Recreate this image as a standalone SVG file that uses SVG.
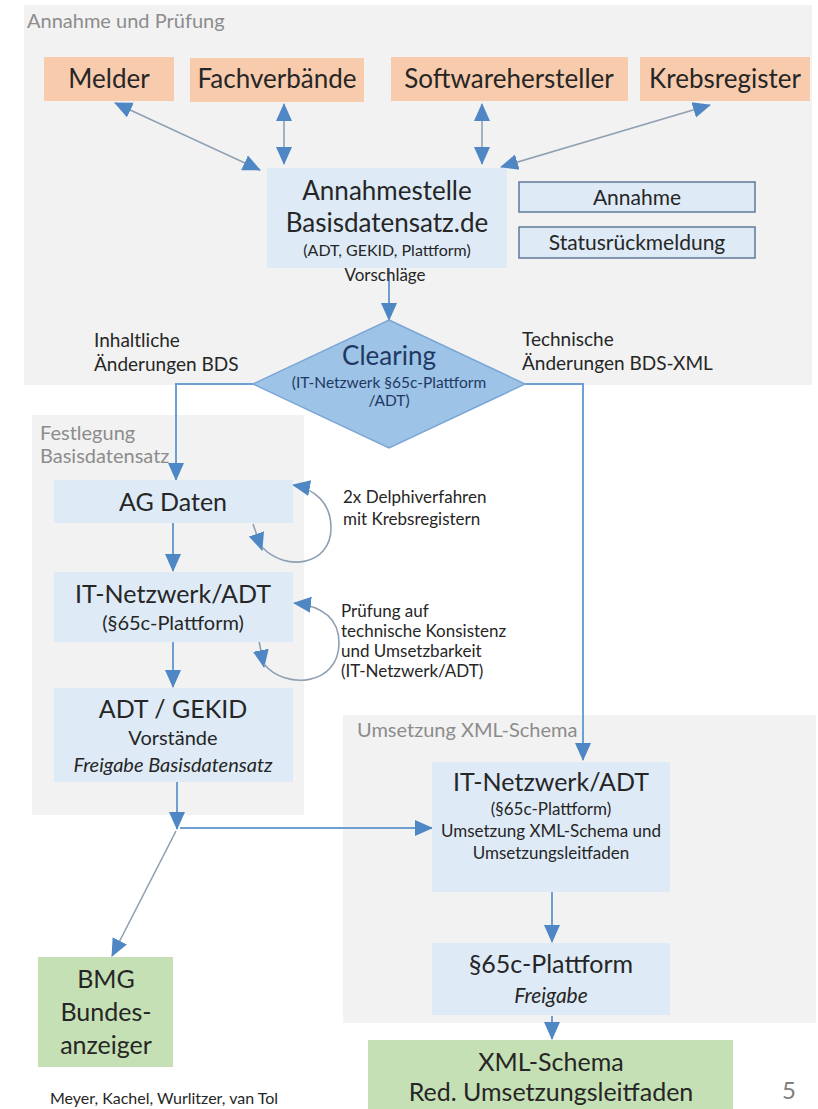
<svg xmlns="http://www.w3.org/2000/svg" width="818" height="1109" viewBox="0 0 818 1109">
<defs>
<style>
text{font-family:Lato,"Liberation Sans",Arial,sans-serif;fill:#262626;text-anchor:middle}
.title{fill:#8c8c8c;text-anchor:start;font-size:20px}
.orange{fill:#f8cbad}
.blue{fill:#deebf7}
.green{fill:#c5e0b4}
.panel{fill:#f2f2f2}
.outl{fill:#deebf7;stroke:#5f7a99;stroke-width:1.5}
.flow{fill:none;stroke:#6d9fd3;stroke-width:2}
.thin{fill:none;stroke:#8fa0b3;stroke-width:1.6}
.big{font-size:25px}
.top{font-size:26px}
.mid{font-size:20px}
.sm{font-size:17px}
.note{font-size:17px;text-anchor:start}
</style>
<marker id="ah" markerUnits="userSpaceOnUse" markerWidth="18" markerHeight="18" viewBox="0 0 18 18" refX="17" refY="9" orient="auto-start-reverse">
<path d="M0,1 L18,9 L0,17 z" fill="#4f87c4"/>
</marker>
</defs>

<g id="panels">
<rect class="panel" x="24" y="5" width="788" height="380"/>
<text class="title" x="27" y="28">Annahme und Prüfung</text>
<rect class="panel" x="32" y="415" width="272" height="400"/>
<text class="title" x="40" y="440">Festlegung</text>
<text class="title" x="40" y="463">Basisdatensatz</text>
<rect class="panel" x="343" y="715" width="473" height="308"/>
<text class="title" x="357" y="737">Umsetzung XML-Schema</text>
</g>

<g id="connectors">
<line class="thin" x1="115" y1="103" x2="260" y2="170" marker-start="url(#ah)" marker-end="url(#ah)"/>
<line class="thin" x1="284" y1="104" x2="284" y2="164" marker-start="url(#ah)" marker-end="url(#ah)"/>
<line class="thin" x1="482" y1="104" x2="482" y2="164" marker-start="url(#ah)" marker-end="url(#ah)"/>
<line class="thin" x1="710" y1="105" x2="501" y2="167" marker-start="url(#ah)" marker-end="url(#ah)"/>
<line class="flow" x1="389" y1="268" x2="389" y2="320" marker-end="url(#ah)"/>
<path class="flow" d="M253,384 H176 V480" marker-end="url(#ah)"/>
<path class="flow" d="M525,384 H583 V760" marker-end="url(#ah)"/>
<line class="flow" x1="173" y1="523" x2="173" y2="571" marker-end="url(#ah)"/>
<line class="flow" x1="173" y1="642" x2="173" y2="687" marker-end="url(#ah)"/>
<line class="flow" x1="177" y1="782" x2="177" y2="829" marker-end="url(#ah)"/>
<line class="flow" x1="180" y1="828" x2="432" y2="828" marker-end="url(#ah)"/>
<line class="thin" x1="176" y1="831" x2="112" y2="956" marker-end="url(#ah)"/>
<line class="flow" x1="552" y1="892" x2="552" y2="942" marker-end="url(#ah)"/>
<line class="flow" x1="552" y1="1016" x2="552" y2="1039" marker-end="url(#ah)"/>
<line class="thin" x1="253" y1="524" x2="262" y2="550" marker-end="url(#ah)"/>
<path class="thin" d="M262,547 C285,572 331,566 331,528 C331,503 315,489 293,485" marker-end="url(#ah)"/>
<line class="thin" x1="259" y1="641" x2="264" y2="667" marker-end="url(#ah)"/>
<path class="thin" d="M264,664 C285,690 339,686 339,643 C339,618 322,606 294,603" marker-end="url(#ah)"/>
</g>

<g id="melder"><rect class="orange" x="44" y="57" width="130" height="44"/><text class="top" x="109" y="88">Melder</text></g>
<g id="fachverbaende"><rect class="orange" x="190" y="58" width="174" height="44"/><text class="top" x="277" y="88">Fachverbände</text></g>
<g id="softwarehersteller"><rect class="orange" x="391" y="57" width="237" height="44"/><text class="top" x="509" y="88">Softwarehersteller</text></g>
<g id="krebsregister"><rect class="orange" x="640" y="57" width="170" height="44"/><text class="top" x="725" y="88">Krebsregister</text></g>

<g id="annahmestelle">
<rect class="blue" x="267" y="168" width="240" height="100"/>
<text class="top" x="387" y="200">Annahmestelle</text>
<text class="top" x="387" y="232">Basisdatensatz.de</text>
<text style="font-size:16px" x="387" y="256">(ADT, GEKID, Plattform)</text>
<text class="sm" x="385" y="281">Vorschläge</text>
</g>
<g id="annahme"><rect class="outl" x="519" y="182" width="236" height="30"/><text style="font-size:21px" x="637" y="205">Annahme</text></g>
<g id="status"><rect class="outl" x="519" y="227" width="236" height="31"/><text style="font-size:21px" x="637" y="250">Statusrückmeldung</text></g>

<g id="labels">
<text class="note" style="font-size:19px" x="94" y="347">Inhaltliche</text>
<text class="note" style="font-size:19px" x="94" y="371">Änderungen BDS</text>
<text class="note" style="font-size:19px" x="522" y="346">Technische</text>
<text class="note" style="font-size:19px" x="522" y="370">Änderungen BDS-XML</text>
<text class="note" x="343" y="503">2x Delphiverfahren</text>
<text class="note" x="343" y="525">mit Krebsregistern</text>
<text class="note" x="341" y="617">Prüfung auf</text>
<text class="note" x="341" y="637">technische Konsistenz</text>
<text class="note" x="341" y="657">und Umsetzbarkeit</text>
<text class="note" x="341" y="677">(IT-Netzwerk/ADT)</text>
</g>

<g id="clearing">
<polygon points="389,320 525,384 389,448 253,384" fill="#9dc3e6" stroke="#7aa6d6" stroke-width="1.5"/>
<text class="top" style="fill:#1f3864" x="389" y="365">Clearing</text>
<text style="font-size:15.5px;fill:#1f3864" x="389" y="388">(IT-Netzwerk §65c-Plattform</text>
<text style="font-size:15.5px;fill:#1f3864" x="389" y="406">/ADT)</text>
</g>

<g id="agdaten"><rect class="blue" x="54" y="480" width="239" height="43"/><text class="big" x="173" y="511">AG Daten</text></g>
<g id="itnetzwerk1"><rect class="blue" x="54" y="572" width="239" height="70"/><text class="big" x="173" y="603">IT-Netzwerk/ADT</text><text class="mid" x="173" y="630">(§65c-Plattform)</text></g>
<g id="adtgekid"><rect class="blue" x="54" y="688" width="239" height="94"/><text class="big" x="173" y="718">ADT / GEKID</text><text class="mid" x="173" y="745">Vorstände</text><text class="mid" style="font-style:italic" x="173" y="772">Freigabe Basisdatensatz</text></g>

<g id="itnetzwerk2"><rect class="blue" x="432" y="762" width="238" height="130"/>
<text class="big" x="551" y="791">IT-Netzwerk/ADT</text>
<text class="sm" x="551" y="815">(§65c-Plattform)</text>
<text class="sm" x="551" y="837">Umsetzung XML-Schema und</text>
<text class="sm" x="551" y="859">Umsetzungsleitfaden</text></g>
<g id="plattform"><rect class="blue" x="432" y="943" width="238" height="72"/><text class="big" x="551" y="973">§65c-Plattform</text><text style="font-size:21px;font-style:italic" x="551" y="1003">Freigabe</text></g>
<g id="xmlschema"><rect class="green" x="368" y="1040" width="365" height="80"/><text class="big" x="551" y="1071">XML-Schema</text><text class="big" x="551" y="1101">Red. Umsetzungsleitfaden</text></g>
<g id="bmg"><rect class="green" x="38" y="957" width="135" height="110"/><text class="big" x="106" y="988">BMG</text><text class="big" x="106" y="1021">Bundes-</text><text class="big" x="106" y="1054">anzeiger</text></g>

<text style="font-size:24px;fill:#7f7f7f" x="789" y="1099">5</text>
<text class="note" style="font-size:16px" x="50" y="1104">Meyer, Kachel, Wurlitzer, van Tol</text>
</svg>
